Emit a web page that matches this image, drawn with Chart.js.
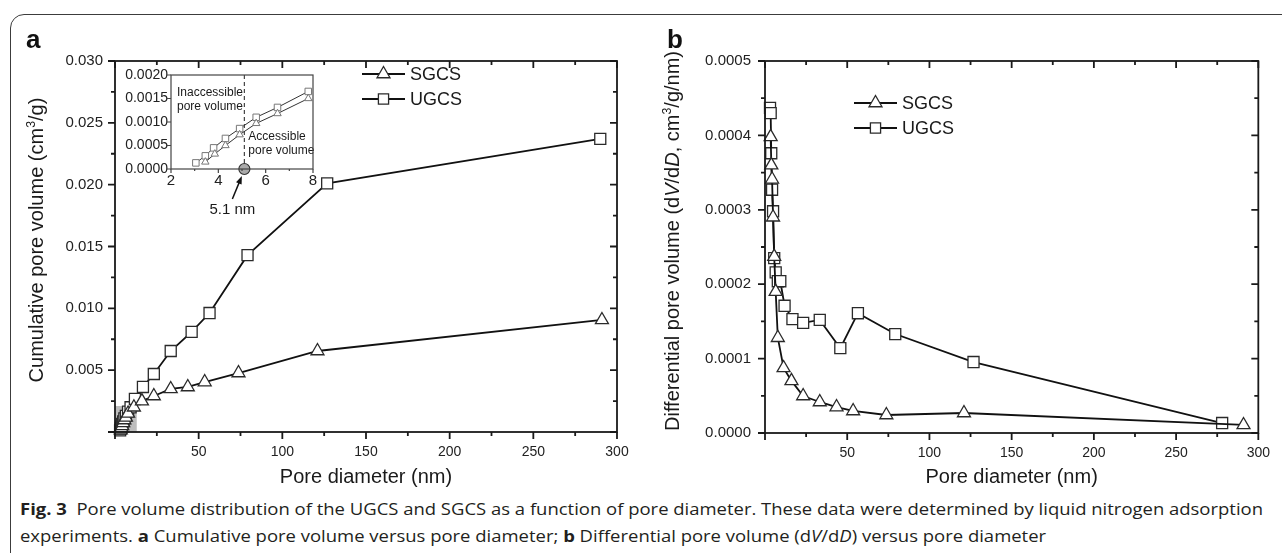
<!DOCTYPE html>
<html lang="en">
<head>
<meta charset="UTF-8">
<title>Fig. 3 Pore volume distribution</title>
<script src="https://cdn.jsdelivr.net/npm/chart.js"></script>
<style>
    body { margin: 0; width: 1282px; height: 553px; overflow: hidden; position: relative; background: #fff; font-family: "Liberation Sans", Arial, sans-serif; }
    .moldura { position: absolute; left: 10px; top: 14px; width: 1300px; height: 600px; border: 1.5px solid #3c3c3c; border-top-left-radius: 14px; box-sizing: border-box; }
    .grafico { position: absolute; }
    .letra { position: absolute; font-weight: bold; font-size: 26px; line-height: 26px; color: #111; }
    .legenda { position: absolute; left: 20px; white-space: nowrap; font-family: "Open Sans", sans-serif; font-size: 15.5px; line-height: 20px; color: #231f20; transform-origin: left center; }
</style>
</head>
<body>
    <div class="moldura"></div>

    <canvas id="graficoA" class="grafico" width="650" height="490" style="left:0;top:0"></canvas>
    <canvas id="graficoInset" class="grafico" width="230" height="170" style="left:110px;top:60px"></canvas>
    <canvas id="graficoB" class="grafico" width="642" height="490" style="left:640px;top:0"></canvas>

    <div class="letra" style="left:26px;top:26px">a</div>
    <div class="letra" style="left:667px;top:26px">b</div>

    <div id="linha1" class="legenda" style="top:499px"><b>Fig. 3</b>&nbsp;&nbsp;Pore volume distribution of the UGCS and SGCS as a function of pore diameter. These data were determined by liquid nitrogen adsorption</div>
    <div id="linha2" class="legenda" style="top:526px">experiments. <b>a</b> Cumulative pore volume versus pore diameter; <b>b</b> Differential pore volume (d<i>V</i>/d<i>D</i>) versus pore diameter</div>

<script>
    // dados (diametro em nm)
    const diametroUGCSa = [3.05, 3.45, 3.8, 4.3, 4.9, 5.6, 6.5, 7.8, 9.3, 11.9, 16.7, 23.2, 33.3, 45.8, 56.5, 79.2, 126.8, 290];
    const diametroUGCSb = [3.05, 3.45, 3.8, 4.3, 4.9, 5.6, 6.5, 7.8, 9.3, 11.9, 16.7, 23.2, 33.3, 45.8, 56.5, 79.2, 126.8, 278];
    const cumulativoUGCS = [0.00013, 0.00028, 0.00045, 0.00065, 0.00086, 0.0011, 0.00131, 0.00165, 0.0020, 0.00267, 0.00364, 0.00469, 0.00655, 0.0081, 0.00962, 0.0143, 0.0201, 0.0237];
    const diferencialUGCS = [0.000437, 0.00043, 0.000376, 0.000327, 0.000298, 0.000235, 0.000216, 0.000204, 0.000204, 0.000171, 0.000153, 0.000148, 0.000152, 0.000114, 0.000161, 0.000133, 0.0000954, 0.0000134];

    const diametroSGCS = [3.45, 3.85, 4.3, 4.9, 5.6, 6.5, 7.8, 11.3, 16.1, 23.2, 33.3, 43.5, 53.6, 73.8, 121, 291];
    const cumulativoSGCS = [0.00015, 0.00032, 0.0005, 0.00073, 0.00097, 0.00118, 0.0015, 0.0020, 0.0025, 0.00291, 0.00348, 0.00364, 0.00404, 0.00477, 0.00655, 0.00906];
    const diferencialSGCS = [0.000398, 0.00036, 0.000341, 0.00029, 0.000237, 0.00019, 0.000128, 0.0000874, 0.00007, 0.0000497, 0.0000417, 0.0000349, 0.0000296, 0.0000242, 0.0000269, 0.0000108];

    const ticksX = [0, 50, 100, 150, 200, 250, 300];
    const ticksYA = [0, 0.005, 0.010, 0.015, 0.020, 0.025, 0.030];
    const ticksYB = [0, 0.0001, 0.0002, 0.0003, 0.0004, 0.0005];
    const ticksXInset = [2, 4, 6, 8];
    const ticksYInset = [0, 0.0005, 0.0010, 0.0015, 0.0020];

    const diametroCritico = 5.1;
    const familia = "'Liberation Sans', Arial, sans-serif";
    const corTinta = '#1a1a1a';

    function pontos(xs, ys) {
        return xs.map((v, i) => ({ x: v, y: ys[i] }));
    }

    function serie(rotulo, xs, ys, estilo, raio, pequeno) {
        return {
            label: rotulo,
            data: pontos(xs, ys),
            showLine: true,
            borderColor: pequeno ? '#333' : '#111',
            borderWidth: pequeno ? 1 : 1.8,
            pointStyle: estilo,
            pointRadius: raio,
            pointBackgroundColor: '#fff',
            pointBorderColor: pequeno ? '#777' : '#2a2a2a',
            pointBorderWidth: pequeno ? 1 : 1.3,
            clip: false
        };
    }

    function escala(valores, min, max, formato, tamanho, padding, fit) {
        return {
            type: 'linear', min: min, max: max,
            grid: { display: false, drawTicks: false }, border: { display: false },
            afterBuildTicks: s => { s.ticks = valores.map(v => ({ value: v })); },
            ticks: { callback: formato, font: { family: familia, size: tamanho }, color: '#222', padding: padding, autoSkip: false, maxRotation: 0 },
            afterFit: fit
        };
    }

    // caixa do grafico com tracos maiores e menores (estilo Origin)
    function moldura(op) {
        return {
            id: 'moldura',
            afterDraw(chart) {
                const { ctx, chartArea: a } = chart;
                const x = chart.scales.x, y = chart.scales.y;
                const meios = v => v.slice(1).map((t, i) => (t + v[i]) / 2);
                ctx.save();
                ctx.strokeStyle = op.cor;
                ctx.lineWidth = op.espessura;
                ctx.beginPath();
                [[op.ticksX, op.maior], [op.menorX ? meios(op.ticksX) : [], op.menor]].forEach(([vals, L]) => vals.forEach(v => {
                    const px = x.getPixelForValue(v);
                    ctx.moveTo(px, a.bottom); ctx.lineTo(px, a.bottom + L);
                    if (op.espelho) { ctx.moveTo(px, a.top); ctx.lineTo(px, a.top + L); }
                }));
                [[op.ticksY, op.maior], [op.menorY ? meios(op.ticksY) : [], op.menor]].forEach(([vals, L]) => vals.forEach(v => {
                    const py = y.getPixelForValue(v);
                    ctx.moveTo(a.left, py); ctx.lineTo(a.left - L, py);
                    if (op.espelho) { ctx.moveTo(a.right, py); ctx.lineTo(a.right - L, py); }
                }));
                ctx.stroke();
                ctx.strokeRect(a.left, a.top, a.right - a.left, a.bottom - a.top);
                ctx.restore();
            }
        };
    }

    function textoRico(ctx, partes, x, y, tamanho, girar) {
        const fonte = p => `${p.italico ? 'italic ' : ''}${p.sup ? tamanho * 0.62 : tamanho}px ${familia}`;
        ctx.save();
        ctx.translate(x, y);
        if (girar) ctx.rotate(-Math.PI / 2);
        ctx.fillStyle = corTinta;
        ctx.textAlign = 'left';
        ctx.textBaseline = 'alphabetic';
        let total = 0;
        partes.forEach(p => { ctx.font = fonte(p); total += ctx.measureText(p.t).width; });
        let cx = -total / 2;
        partes.forEach(p => {
            ctx.font = fonte(p);
            ctx.fillText(p.t, cx, p.sup ? -tamanho * 0.42 : 0);
            cx += ctx.measureText(p.t).width;
        });
        ctx.restore();
    }

    function titulos(tituloY, xTituloY, yTituloY) {
        return {
            id: 'titulos',
            afterDraw(chart) {
                const a = chart.chartArea;
                textoRico(chart.ctx, [{ t: 'Pore diameter (nm)' }], (a.left + a.right) / 2, 483, 20, false);
                textoRico(chart.ctx, tituloY, xTituloY, yTituloY, 20, true);
            }
        };
    }

    function legendaManual(itens) {
        return {
            id: 'legendaManual',
            afterDraw(chart) {
                const ctx = chart.ctx;
                ctx.save();
                itens.forEach(it => {
                    ctx.strokeStyle = '#111';
                    ctx.lineWidth = 1.8;
                    ctx.beginPath();
                    ctx.moveTo(it.x, it.y); ctx.lineTo(it.x + 43, it.y);
                    ctx.stroke();
                    ctx.fillStyle = '#fff';
                    ctx.strokeStyle = '#2a2a2a';
                    ctx.lineWidth = 1.3;
                    Chart.helpers.drawPoint(ctx, { pointStyle: it.estilo, radius: it.raio, borderWidth: 1.3, rotation: 0 }, it.x + 21.5, it.y);
                    ctx.fillStyle = corTinta;
                    ctx.font = `18px ${familia}`;
                    ctx.textBaseline = 'middle';
                    ctx.fillText(it.texto, it.x + 48, it.y + 1);
                });
                ctx.restore();
            }
        };
    }

    // area cinza que corresponde ao inset
    const areaCinza = {
        id: 'areaCinza',
        beforeDatasetsDraw(chart) {
            const x = chart.scales.x, y = chart.scales.y;
            const x0 = x.getPixelForValue(0), x1 = x.getPixelForValue(13);
            const y0 = y.getPixelForValue(0), y1 = y.getPixelForValue(0.0021);
            chart.ctx.save();
            chart.ctx.fillStyle = '#bdbdbd';
            chart.ctx.fillRect(x0, y1, x1 - x0, y0 - y1);
            chart.ctx.restore();
        }
    };

    const anotacoesInset = {
        id: 'anotacoesInset',
        beforeDatasetsDraw(chart) {
            const { ctx, chartArea: a } = chart;
            const px = chart.scales.x.getPixelForValue(diametroCritico);
            ctx.save();
            ctx.fillStyle = '#fff';
            ctx.fillRect(a.left, a.top, a.right - a.left, a.bottom - a.top);
            ctx.strokeStyle = '#444';
            ctx.lineWidth = 1.2;
            ctx.setLineDash([4, 3]);
            ctx.beginPath();
            ctx.moveTo(px, a.top); ctx.lineTo(px, a.bottom);
            ctx.stroke();
            ctx.setLineDash([]);
            ctx.fillStyle = corTinta;
            ctx.font = `12px ${familia}`;
            ctx.textBaseline = 'middle';
            ctx.fillText('Inaccessible', a.left + 6, a.top + 18);
            ctx.fillText('pore volume', a.left + 6, a.top + 32);
            ctx.fillText('Accessible', px + 4, a.top + 62);
            ctx.fillText('pore volume', px + 4, a.top + 76);
            ctx.restore();
        },
        afterDraw(chart) {
            const ctx = chart.ctx;
            const px = chart.scales.x.getPixelForValue(diametroCritico);
            const py = chart.scales.y.getPixelForValue(0);
            ctx.save();
            ctx.fillStyle = '#aaa';
            ctx.strokeStyle = '#333';
            ctx.lineWidth = 1.2;
            ctx.beginPath();
            ctx.arc(px, py, 5.5, 0, Math.PI * 2);
            ctx.fill();
            ctx.stroke();
            // seta
            const x1 = px - 12, y1 = py + 30, x2 = px - 2.5, y2 = py + 7;
            const ang = Math.atan2(y2 - y1, x2 - x1);
            ctx.strokeStyle = '#111';
            ctx.lineWidth = 1.5;
            ctx.beginPath();
            ctx.moveTo(x1, y1); ctx.lineTo(x2 - 5 * Math.cos(ang), y2 - 5 * Math.sin(ang));
            ctx.stroke();
            ctx.fillStyle = '#111';
            ctx.beginPath();
            ctx.moveTo(x2, y2);
            ctx.lineTo(x2 - 8 * Math.cos(ang) + 3 * Math.sin(ang), y2 - 8 * Math.sin(ang) - 3 * Math.cos(ang));
            ctx.lineTo(x2 - 8 * Math.cos(ang) - 3 * Math.sin(ang), y2 - 8 * Math.sin(ang) + 3 * Math.cos(ang));
            ctx.closePath();
            ctx.fill();
            ctx.fillStyle = corTinta;
            ctx.font = `15px ${familia}`;
            ctx.textAlign = 'center';
            ctx.textBaseline = 'middle';
            ctx.fillText(diametroCritico + ' nm', px - 12, py + 41);
            ctx.restore();
        }
    };

    const semInteracao = { animation: false, responsive: false, events: [], plugins: { legend: { display: false }, tooltip: { enabled: false } } };

    // (a) volume cumulativo
    new Chart(document.getElementById('graficoA'), {
        type: 'scatter',
        data: {
            datasets: [
                serie('SGCS', diametroSGCS, cumulativoSGCS, 'triangle', 7.5),
                serie('UGCS', diametroUGCSa, cumulativoUGCS, 'rect', 7.8)
            ]
        },
        options: {
            ...semInteracao,
            layout: { padding: { top: 61, right: 33, left: 0, bottom: 0 } },
            scales: {
                x: escala(ticksX, 0, 300, v => v === 0 ? '' : v, 14, 12, s => { s.height = 58; }),
                y: escala(ticksYA, 0, 0.03, v => v === 0 ? '' : v.toFixed(3), 15, 12, s => { s.width = 115; })
            }
        },
        plugins: [
            areaCinza,
            moldura({ ticksX: ticksX, ticksY: ticksYA, menorX: true, menorY: true, maior: 7, menor: 4, espelho: true, cor: '#1a1a1a', espessura: 1.8 }),
            titulos([{ t: 'Cumulative pore volume (cm' }, { t: '3', sup: true }, { t: '/g)' }], 43, 240),
            legendaManual([{ x: 362, y: 74, estilo: 'triangle', raio: 7.5, texto: 'SGCS' }, { x: 362, y: 99, estilo: 'rect', raio: 7.2, texto: 'UGCS' }])
        ]
    });

    // inset do grafico (a)
    new Chart(document.getElementById('graficoInset'), {
        type: 'scatter',
        data: {
            datasets: [
                serie('SGCS', diametroSGCS.filter(d => d <= 8), cumulativoSGCS, 'triangle', 4.3, true),
                serie('UGCS', diametroUGCSa.filter(d => d <= 8), cumulativoUGCS, 'rect', 4.6, true)
            ]
        },
        options: {
            ...semInteracao,
            layout: { padding: { top: 15, right: 27, left: 0, bottom: 0 } },
            scales: {
                x: escala(ticksXInset, 2, 8, v => v, 15, 3, s => { s.height = 61; }),
                y: escala(ticksYInset, 0, 0.002, v => v.toFixed(4), 14, 3, s => { s.width = 61; })
            }
        },
        plugins: [
            anotacoesInset,
            moldura({ ticksX: ticksXInset, ticksY: ticksYInset, menorX: true, menorY: false, maior: 4, menor: 2, espelho: false, cor: '#444', espessura: 1.2 })
        ]
    });

    // (b) volume diferencial
    new Chart(document.getElementById('graficoB'), {
        type: 'scatter',
        data: {
            datasets: [
                serie('SGCS', diametroSGCS, diferencialSGCS, 'triangle', 7.5),
                serie('UGCS', diametroUGCSb, diferencialUGCS, 'rect', 7.8)
            ]
        },
        options: {
            ...semInteracao,
            layout: { padding: { top: 61, right: 14, left: 0, bottom: 0 } },
            scales: {
                x: escala(ticksX, 0, 300, v => v === 0 ? '' : v, 14, 12, s => { s.height = 57; }),
                y: escala(ticksYB, 0, 0.0005, v => v.toFixed(4), 15, 14, s => { s.width = 125; })
            }
        },
        plugins: [
            moldura({ ticksX: ticksX, ticksY: ticksYB, menorX: true, menorY: true, maior: 7, menor: 4, espelho: true, cor: '#1a1a1a', espessura: 1.8 }),
            titulos([{ t: 'Differential pore volume (d' }, { t: 'V', italico: true }, { t: '/d' }, { t: 'D', italico: true }, { t: ', cm' }, { t: '3', sup: true }, { t: '/g/nm)' }], 39, 241),
            legendaManual([{ x: 214, y: 103, estilo: 'triangle', raio: 7.5, texto: 'SGCS' }, { x: 214, y: 128, estilo: 'rect', raio: 7.2, texto: 'UGCS' }])
        ]
    });

    // legenda da figura ajustada a largura da linha original
    const linha1 = document.getElementById('linha1');
    const linha2 = document.getElementById('linha2');
    const fator = 1243 / linha1.getBoundingClientRect().width;
    [linha1, linha2].forEach(l => { l.style.transform = `scaleX(${fator})`; });
</script>
</body>
</html>
